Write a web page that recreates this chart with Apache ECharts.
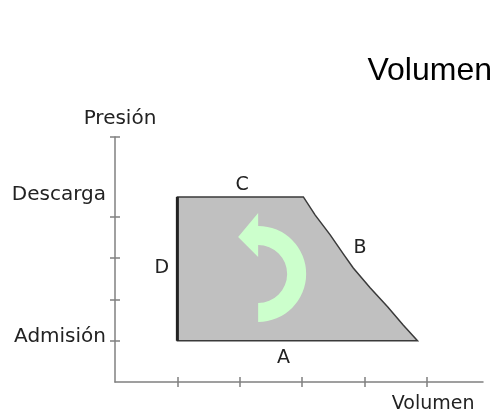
<!DOCTYPE html>
<html>
<head>
<meta charset="utf-8">
<title>Ciclo presión-volumen</title>
<script src="https://cdn.jsdelivr.net/npm/echarts@6/dist/echarts.min.js"></script>
<style>
	html, body { margin: 0; padding: 0; background: #fff; }
	#chart { width: 495px; height: 415px; }
</style>
</head>
<body>
<div id="chart"></div>
<script>
	// contorno del ciclo (volumen, presión) en unidades de los ejes
	var cicloVol = [1, 1, 3.02, 3.21, 3.45, 3.66, 3.82, 4.09, 4.37, 4.62, 4.85];
	var cicloPres = [1, 4.48, 4.48, 4.04, 3.56, 3.10, 2.76, 2.28, 1.82, 1.38, 1];
	// tramo D, se dibuja más grueso
	var tramoDVol = [1, 1];
	var tramoDPres = [1, 4.48];
	// letras de los tramos
	var letras = ['A', 'B', 'C', 'D'];
	var letrasVol = [2.70, 3.93, 2.04, 0.75];
	var letrasPres = [0.58, 3.24, 4.77, 2.76];
	// nombres sobre el eje de presión
	var niveles = ['Descarga', 'Admisión'];
	var nivelesPres = [4.53, 1.09];
	// nombre del eje de volumen, bajo el eje
	var nombreVol = [5.10];
	// centro de la flecha de giro
	var flechaVol = [2.295];
	var flechaPres = [2.615];
	// marcas de los ejes
	var ticksVol = [1, 2, 3, 4, 5];
	var ticksPres = [1, 2, 3, 4, 5.93];

	var fuente = 'DejaVu Sans';
	var gris = '#808080';
	var tinta = '#222';

	function par(xs, ys) {
		return xs.map(function(v, i) { return [v, ys[i]]; });
	}

	function ejeX(interno) {
		return {
			type: 'value', min: 0, max: 5.9, position: 'bottom',
			axisLine: { show: !interno, onZero: false, lineStyle: { color: gris, width: 1.5 } },
			axisTick: { show: true, inside: interno, length: 5, customValues: ticksVol, lineStyle: { color: gris, width: 1.5 } },
			axisLabel: { show: false },
			splitLine: { show: false }
		};
	}
	function ejeY(interno) {
		return {
			type: 'value', min: 0, max: 5.93, position: 'left',
			axisLine: { show: !interno, onZero: false, lineStyle: { color: gris, width: 1.5 } },
			axisTick: { show: true, inside: interno, length: 5, customValues: ticksPres, lineStyle: { color: gris, width: 1.5 } },
			axisLabel: { show: false },
			splitLine: { show: false }
		};
	}

	var y0 = ejeY(false);
	y0.name = 'Presión';
	y0.nameLocation = 'end';
	y0.nameGap = 8;
	y0.nameTextStyle = { fontFamily: fuente, fontSize: 20, color: tinta, padding: [0, 0, 0, 10] };

	function etiquetas(datos, textos, pos, dist, tam) {
		return {
			type: 'scatter',
			data: datos,
			symbolSize: 0,
			itemStyle: { opacity: 1 },
			label: {
				show: true, position: pos, distance: dist,
				fontFamily: fuente, fontSize: tam, color: tinta,
				formatter: function(p) { return textos[p.dataIndex]; }
			}
		};
	}

	var chart = echarts.init(document.getElementById('chart'));
	chart.setOption({
		animation: false,
		title: {
			text: 'Volumen', right: 3, top: 55, padding: 0,
			textStyle: { fontFamily: 'Liberation Sans', fontSize: 32, fontWeight: 'normal', color: '#000' }
		},
		grid: { left: 115, right: 12, top: 137, bottom: 33 },
		xAxis: [ejeX(false), ejeX(true)],
		yAxis: [y0, ejeY(true)],
		series: [{
			type: 'custom',
			data: par(cicloVol, cicloPres),
			renderItem: function(params, api) {
				if (params.dataIndex !== 0) return;
				var pts = cicloVol.map(function(v, i) { return api.coord([v, cicloPres[i]]); });
				return {
					type: 'polygon',
					shape: { points: pts },
					style: { fill: '#c0c0c0', stroke: '#3a3a3a', lineWidth: 1.5 }
				};
			}
		}, {
			type: 'line',
			data: par(tramoDVol, tramoDPres),
			symbol: 'none',
			lineStyle: { color: tinta, width: 3 }
		}, {
			type: 'custom',
			data: par(flechaVol, flechaPres),
			renderItem: function(params, api) {
				var c = api.coord([api.value(0), api.value(1)]);
				var x = c[0], y = c[1], ro = 48, ri = 29;
				var d = 'M' + x + ' ' + (y + ro) +
					' A' + ro + ' ' + ro + ' 0 0 0 ' + x + ' ' + (y - ro) +
					' L' + x + ' ' + (y - 61) +
					' L' + (x - 20) + ' ' + (y - 37) +
					' L' + x + ' ' + (y - 17) +
					' L' + x + ' ' + (y - ri) +
					' A' + ri + ' ' + ri + ' 0 0 1 ' + x + ' ' + (y + ri) + ' Z';
				return { type: 'path', shape: { pathData: d }, style: { fill: '#ccffcc' } };
			}
		},
		etiquetas(par(letrasVol, letrasPres), letras, 'inside', 0, 19),
		etiquetas(par([0, 0], nivelesPres), niveles, 'left', 9, 20),
		etiquetas(par(nombreVol, [0]), ['Volumen'], 'bottom', 13, 19)
		]
	});
</script>
</body>
</html>
